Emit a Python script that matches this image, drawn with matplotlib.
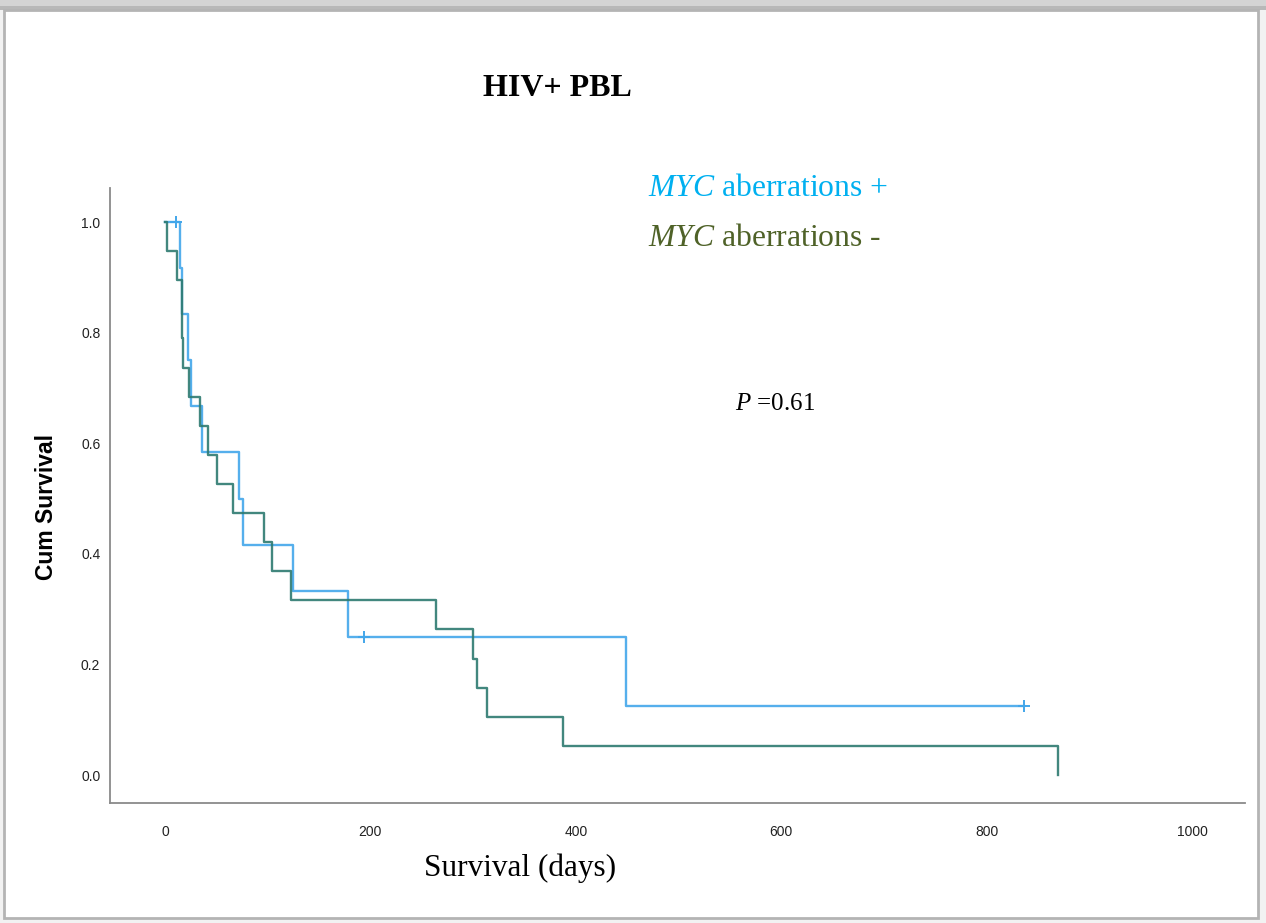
#!/usr/bin/env python3
"""Kaplan-Meier curves, HIV+ PBL, MYC aberrations +/-."""

import numpy as np
import matplotlib
matplotlib.use("Agg")
import matplotlib.pyplot as plt
from matplotlib.patches import Rectangle

plt.rcParams["mathtext.fontset"] = "custom"
plt.rcParams["mathtext.it"] = "Liberation Serif:italic"
plt.rcParams["mathtext.rm"] = "Liberation Serif"

# MYC aberrations + : days and event flag (1 = death, 0 = censored)
pos_days = [11, 15, 17, 22.5, 25, 36, 72, 76, 125, 178, 194, 449, 836]
pos_event = [0, 1, 1, 1, 1, 1, 1, 1, 1, 1, 0, 1, 0]

# MYC aberrations - : all deaths
neg_days = [2, 11.5, 16.5, 16.8, 17.2, 23.5, 34, 42, 51, 66, 96, 104, 123,
            264, 300, 304, 314, 388, 869]
neg_event = [1] * len(neg_days)

x_ticks = [0, 200, 400, 600, 800, 1000]
y_ticks = [0.0, 0.2, 0.4, 0.6, 0.8, 1.0]

BLUE = "#42a6ea"
GREEN = "#2d7a70"


def kaplan_meier(days, events):
    """Return step x/y and censor points for a KM curve."""
    days = np.asarray(days, dtype=float)
    events = np.asarray(events)
    order = np.argsort(days, kind="stable")
    days, events = days[order], events[order]
    n = len(days)
    s = 1.0
    xs, ys = [0.0], [1.0]
    cx, cy = [], []
    for i, (t, e) in enumerate(zip(days, events)):
        at_risk = n - i
        if e:
            s *= (at_risk - 1) / at_risk
            xs.append(t)
            ys.append(s)
        else:
            cx.append(t)
            cy.append(s)
    return np.array(xs), np.array(ys), cx, cy


def draw_curve(ax, days, events, color):
    xs, ys, cx, cy = kaplan_meier(days, events)
    end = max(days)
    xs = np.append(xs, end)
    ys = np.append(ys, ys[-1])
    ax.step(xs, ys, where="post", color=color, lw=1.7, alpha=0.9)
    ax.plot(cx, cy, linestyle="none", marker="+", ms=9, mew=1.4, color=color)


fig = plt.figure(figsize=(12.66, 9.23), dpi=100)
fig.patch.set_facecolor("#f2f2f2")

# screenshot-style frame
fig.patches.append(Rectangle((0, 1 - 10 / 923), 1, 10 / 923, transform=fig.transFigure,
                             facecolor="#d4d4d4", edgecolor="none", zorder=-10))
fig.patches.append(Rectangle((0, 1 - 10 / 923), 1, 4 / 923, transform=fig.transFigure,
                             facecolor="#b8b8b8", edgecolor="none", zorder=-10))
fig.patches.append(Rectangle((4 / 1266, 5 / 923), 1254 / 1266, 908 / 923,
                             transform=fig.transFigure, facecolor="white",
                             edgecolor="#b4b4b4", lw=2, zorder=-10))

ax = fig.add_axes([110 / 1266, 1 - 803 / 923, 1135 / 1266, 615 / 923])
ax.set_facecolor("none")
ax.set_zorder(1)

draw_curve(ax, pos_days, pos_event, BLUE)
draw_curve(ax, neg_days, neg_event, GREEN)

ax.set_xlim(-53.5, 1051.5)
ax.set_ylim(-0.0506, 1.0615)
ax.set_xticks(x_ticks)
ax.set_yticks(y_ticks)
ax.set_yticklabels([f"{v:.1f}" for v in y_ticks])
ax.tick_params(axis="both", length=0, labelsize=10, labelcolor="#222222",
               labelfontfamily="Liberation Sans")
ax.tick_params(axis="x", pad=16)
ax.tick_params(axis="y", pad=7)
for side in ("top", "right"):
    ax.spines[side].set_visible(False)
for side in ("left", "bottom"):
    ax.spines[side].set_color("#8a8a8a")
    ax.spines[side].set_linewidth(1.3)

serif = "Liberation Serif"
fig.text(557 / 1266, 1 - 88 / 923, "HIV+ PBL", ha="center", va="center",
         fontsize=23, fontweight="bold", family=serif)
fig.text(648 / 1266, 1 - 188 / 923, r"$\mathit{MYC}$ aberrations +", ha="left",
         va="center", fontsize=22.8, color="#00b0f0", family=serif)
fig.text(648 / 1266, 1 - 238 / 923, r"$\mathit{MYC}$ aberrations -", ha="left",
         va="center", fontsize=22.8, color="#4f6228", family=serif)
fig.text(735 / 1266, 1 - 404 / 923, r"$\mathit{P}$ =0.61", ha="left",
         va="center", fontsize=18, family=serif)
fig.text(520 / 1266, 1 - 868 / 923, "Survival (days)", ha="center", va="center",
         fontsize=22.5, family=serif)
fig.text(47 / 1266, 1 - 507 / 923, "Cum Survival", ha="center", va="center",
         rotation=90, fontsize=16.5, fontweight="bold", family="Liberation Sans")

fig.savefig("out.png", dpi=100, facecolor=fig.get_facecolor())
